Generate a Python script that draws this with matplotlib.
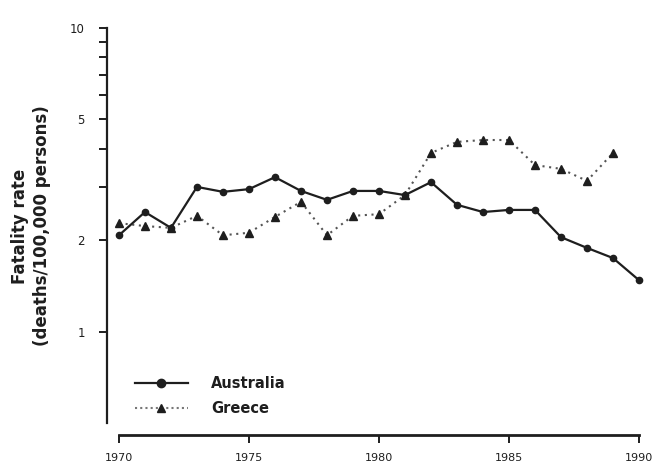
"""
Road fatality rate, Australia vs Greece, 1970-1990 (log scale).
"""

import matplotlib
matplotlib.use('Agg')
import matplotlib.pyplot as plt
from matplotlib.lines import Line2D
from matplotlib.ticker import NullFormatter

#Values
years_aus = list(range(1970, 1991))
aus_rate = [2.08, 2.48, 2.20, 3.00, 2.89, 2.95, 3.23, 2.91, 2.72, 2.91, 2.91,
            2.82, 3.11, 2.62, 2.48, 2.52, 2.52, 2.05, 1.89, 1.75, 1.48]
years_gre = list(range(1970, 1990))
gre_rate = [2.28, 2.23, 2.20, 2.41, 2.08, 2.12, 2.39, 2.68, 2.08, 2.41, 2.44,
            2.82, 3.88, 4.22, 4.28, 4.28, 3.54, 3.44, 3.14, 3.88]

xtick_years = [1970, 1975, 1980, 1985, 1990]
ytick_major = [1, 2, 5, 10]
ytick_minor = [3, 4, 6, 7, 8, 9]

ink = '#1e1e1e'
W, H = 656, 466

fig = plt.figure(figsize=(W/100, H/100), dpi=100)
#axes box in pixels: left 107, right 639, top 28, bottom 435
ax = fig.add_axes([107/W, 1 - 435/H, (639-107)/W, (435-28)/H])

ax.plot(years_aus, aus_rate, color=ink, lw=1.6, marker='o', ms=4.5,
        mfc=ink, mec=ink, clip_on=False, zorder=3)
ax.plot(years_gre, gre_rate, color='#555555', lw=1.5, ls=(0, (1, 2.2)),
        marker='^', ms=5.5, mfc=ink, mec=ink, clip_on=False, zorder=2)

ax.set_yscale('log')
ax.set_xlim(1969.54, 1990)
ax.set_ylim(0.458, 10)

ax.set_yticks(ytick_major, labels=[str(v) for v in ytick_major])
ax.set_yticks(ytick_minor, minor=True)
ax.yaxis.set_minor_formatter(NullFormatter())
ax.set_xticks(xtick_years, labels=[str(v) for v in xtick_years])

for side in ['top', 'right']:
    ax.spines[side].set_visible(False)
ax.spines['left'].set_bounds(0.5, 10)
ax.spines['bottom'].set_bounds(1970, 1990)
ax.spines['left'].set_linewidth(1.6)
ax.spines['bottom'].set_linewidth(2.0)
ax.spines['left'].set_color(ink)
ax.spines['bottom'].set_color(ink)

ax.tick_params(axis='y', which='both', direction='out', length=6, width=1.4,
               pad=10, labelsize=8.5, colors=ink)
ax.tick_params(axis='x', direction='out', length=6, width=1.4, pad=7,
               labelsize=8, colors=ink)

fig.text(31/W, 1 - 226/H, 'Fatality rate\n(deaths/100,000 persons)',
         rotation=90, ha='center', va='center', ma='center', fontsize=12,
         fontweight='bold', linespacing=1.3, color=ink)

handles = [Line2D([], [], color=ink, lw=1.6, marker='o', ms=6, mfc=ink, mec=ink),
           Line2D([], [], color='#777777', lw=1.5, ls=(0, (1, 1.5)), marker='^',
                  ms=6, mfc=ink, mec=ink)]
leg = ax.legend(handles, ['Australia', 'Greece'], loc='upper left',
                bbox_to_anchor=(135/W, 1 - 376/H), bbox_transform=fig.transFigure,
                frameon=False, borderpad=0, borderaxespad=0, handlelength=3.6,
                handletextpad=1.6, labelspacing=0.7,
                prop={'size': 10.5, 'weight': 'bold'})
for t in leg.get_texts():
    t.set_color(ink)

fig.savefig('out.png', dpi=100)
